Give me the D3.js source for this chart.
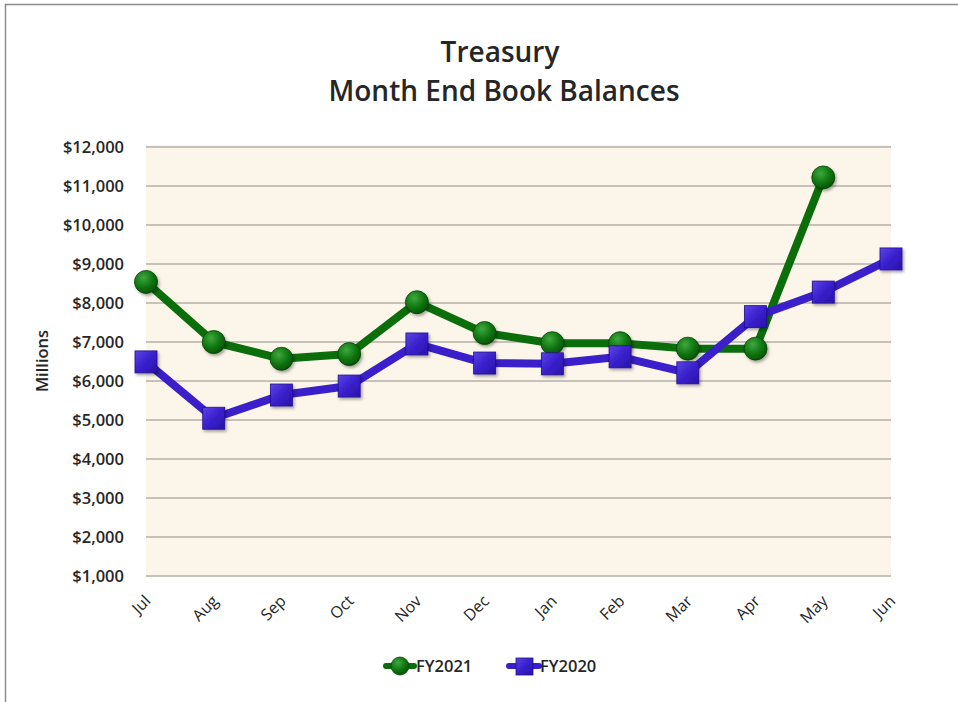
<!DOCTYPE html>
<html lang="en">
<head>
<meta charset="UTF-8" />
<title>Treasury Month End Book Balances</title>
<script src="https://d3js.org/d3.v7.min.js"></script>
<style>
  body { margin: 0; background: #fff; }
  text { font-family: "Open Sans", "Noto Sans", sans-serif; fill: #262626; }
</style>
</head>
<body>
<div id="chart"></div>
<script>
const width = 958, height = 702;

const months = ["Jul", "Aug", "Sep", "Oct", "Nov", "Dec", "Jan", "Feb", "Mar", "Apr", "May", "Jun"];
const fy2021 = [8540, 7000, 6570, 6690, 8020, 7230, 6970, 6970, 6830, 6830, 11220, null];
const fy2020 = [6490, 5045, 5640, 5870, 6950, 6460, 6440, 6620, 6210, 7650, 8280, 9130];
const yTicks = [1000, 2000, 3000, 4000, 5000, 6000, 7000, 8000, 9000, 10000, 11000, 12000];

const plot = { left: 146, right: 891, top: 145, bottom: 577 };

const svg = d3.select("#chart").append("svg")
  .attr("width", width).attr("height", height);

const defs = svg.append("defs");
const rg = defs.append("radialGradient").attr("id", "ball")
  .attr("cx", "38%").attr("cy", "32%").attr("r", "70%");
rg.append("stop").attr("offset", "0%").attr("stop-color", "#3fa83f");
rg.append("stop").attr("offset", "55%").attr("stop-color", "#137a13");
rg.append("stop").attr("offset", "100%").attr("stop-color", "#045204");

const lg = defs.append("linearGradient").attr("id", "box")
  .attr("x1", "0%").attr("y1", "0%").attr("x2", "100%").attr("y2", "100%");
lg.append("stop").attr("offset", "0%").attr("stop-color", "#5a44e6");
lg.append("stop").attr("offset", "50%").attr("stop-color", "#3a20cc");
lg.append("stop").attr("offset", "100%").attr("stop-color", "#2812a8");

const shadow = defs.append("filter").attr("id", "shadow")
  .attr("x", "-30%").attr("y", "-30%").attr("width", "170%").attr("height", "170%");
shadow.append("feDropShadow").attr("dx", 1.5).attr("dy", 2).attr("stdDeviation", 1.5)
  .attr("flood-color", "#000").attr("flood-opacity", 0.35);

// outer frame
svg.append("rect").attr("x", 5.5).attr("y", 4.5).attr("width", 1000).attr("height", 1000)
  .attr("fill", "none").attr("stroke", "#8c8c8c").attr("stroke-width", 1.5);

// title
svg.append("text").attr("x", 500).attr("y", 62).attr("text-anchor", "middle")
  .style("font-size", "28px").style("font-weight", 600).text("Treasury");
svg.append("text").attr("x", 504).attr("y", 101).attr("text-anchor", "middle")
  .style("font-size", "28px").style("font-weight", 600).text("Month End Book Balances");

const x = d3.scalePoint().domain(months).range([plot.left, plot.right]);
const y = d3.scaleLinear().domain([1000, 12000]).range([576, 147]);

// plot background
svg.append("rect").attr("x", plot.left).attr("y", plot.top)
  .attr("width", plot.right - plot.left).attr("height", plot.bottom - plot.top)
  .attr("fill", "#fcf6ea");

// gridlines
svg.append("g").selectAll("line").data(yTicks).join("line")
  .attr("x1", plot.left).attr("x2", plot.right)
  .attr("y1", d => y(d)).attr("y2", d => y(d))
  .attr("stroke", "#b3b0aa").attr("stroke-width", 1.5);

// y axis labels
const yAxis = svg.append("g").attr("transform", `translate(${plot.left - 22},0)`)
  .call(d3.axisLeft(y).tickValues(yTicks).tickSize(0).tickPadding(0)
    .tickFormat(d => "$" + d3.format(",")(d)));
yAxis.select(".domain").remove();
yAxis.selectAll("text").style("font-size", "16.5px").style("font-weight", 600)
  .style("font-family", "'Open Sans', sans-serif").attr("fill", "#262626");

svg.append("text").attr("transform", "translate(48,361) rotate(-90)")
  .attr("text-anchor", "middle").style("font-size", "16.5px").style("font-weight", 600)
  .text("Millions");

// x axis labels
const xAxis = svg.append("g").attr("transform", `translate(0,${plot.bottom})`)
  .call(d3.axisBottom(x).tickSize(0));
xAxis.select(".domain").remove();
xAxis.selectAll("text")
  .style("font-size", "16px").style("font-family", "'Open Sans', sans-serif").attr("fill", "#262626")
  .attr("text-anchor", "end").attr("dy", null).attr("y", 0)
  .attr("transform", "translate(5,25) rotate(-45)");

// lines
const line = d3.line()
  .defined(d => d != null)
  .x((d, i) => x(months[i]))
  .y(d => y(d));

svg.append("path").datum(fy2021).attr("d", line)
  .attr("fill", "none").attr("stroke", "#0b6e0b").attr("stroke-width", 8)
  .attr("stroke-linejoin", "round");
svg.append("path").datum(fy2020).attr("d", line)
  .attr("fill", "none").attr("stroke", "#3a1fca").attr("stroke-width", 8)
  .attr("stroke-linejoin", "round");

// markers
const pts2021 = fy2021.map((v, i) => ({ m: months[i], v })).filter(d => d.v != null);
const pts2020 = fy2020.map((v, i) => ({ m: months[i], v }));

svg.append("g").selectAll("circle").data(pts2021).join("circle")
  .attr("cx", d => x(d.m)).attr("cy", d => y(d.v)).attr("r", 11.5)
  .attr("fill", "url(#ball)").attr("stroke", "#064506").attr("stroke-width", 0.8)
  .attr("filter", "url(#shadow)");

const sq = 22;
svg.append("g").selectAll("rect").data(pts2020).join("rect")
  .attr("x", d => x(d.m) - sq / 2).attr("y", d => y(d.v) - sq / 2)
  .attr("width", sq).attr("height", sq)
  .attr("fill", "url(#box)").attr("stroke", "#221090").attr("stroke-width", 0.8)
  .attr("filter", "url(#shadow)");

// legend
const legend = svg.append("g");
legend.append("line").attr("x1", 386).attr("x2", 414).attr("y1", 666).attr("y2", 666)
  .attr("stroke", "#0b6e0b").attr("stroke-width", 6).attr("stroke-linecap", "round");
legend.append("circle").attr("cx", 400).attr("cy", 666).attr("r", 9)
  .attr("fill", "url(#ball)").attr("stroke", "#064506").attr("stroke-width", 0.8);
legend.append("text").attr("x", 416).attr("y", 672).style("font-size", "16.5px")
  .style("font-weight", 600).text("FY2021");

legend.append("line").attr("x1", 509).attr("x2", 539).attr("y1", 666).attr("y2", 666)
  .attr("stroke", "#3a1fca").attr("stroke-width", 6).attr("stroke-linecap", "round");
legend.append("rect").attr("x", 516).attr("y", 658).attr("width", 17).attr("height", 17)
  .attr("fill", "url(#box)").attr("stroke", "#221090").attr("stroke-width", 0.8);
legend.append("text").attr("x", 540).attr("y", 672).style("font-size", "16.5px")
  .style("font-weight", 600).text("FY2020");
</script>
</body>
</html>
